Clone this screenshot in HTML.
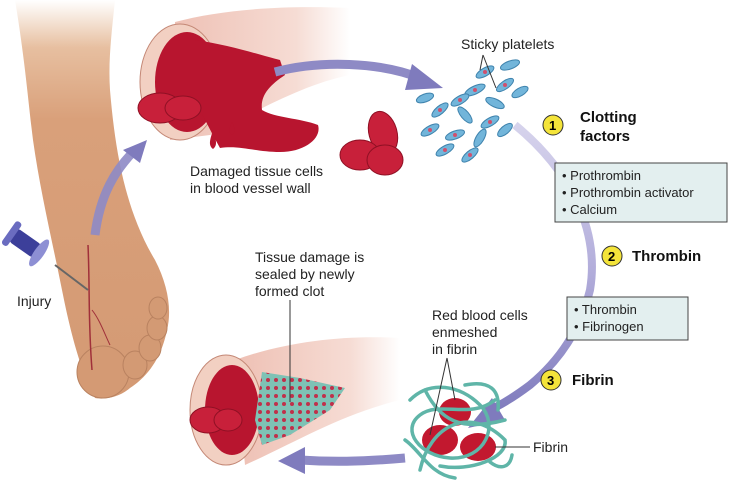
<!DOCTYPE html>
<html><head><meta charset="utf-8"><style>
body{margin:0;background:#fff;}
svg{display:block;font-family:"Liberation Sans",Arial,sans-serif;}
</style></head><body>
<svg width="731" height="487" viewBox="0 0 731 487" xmlns="http://www.w3.org/2000/svg">
<defs>
<linearGradient id="leg" x1="0" y1="0" x2="0" y2="1">
<stop offset="0" stop-color="#fff"/><stop offset="0.12" stop-color="#e7bfa0"/><stop offset="0.3" stop-color="#d9a07a"/><stop offset="1" stop-color="#d49a74"/>
</linearGradient>
<linearGradient id="tube" x1="0" y1="0" x2="1" y2="0">
<stop offset="0" stop-color="#eec0b4"/><stop offset="0.7" stop-color="#f6dcd4"/><stop offset="1" stop-color="#fff"/>
</linearGradient>
<linearGradient id="arc" x1="0" y1="0" x2="0" y2="1">
<stop offset="0" stop-color="#d6d3ec"/><stop offset="0.5" stop-color="#b3aedb"/><stop offset="1" stop-color="#7f7bbd"/>
</linearGradient>
<pattern id="mesh" width="8" height="8" patternUnits="userSpaceOnUse">
<rect width="8" height="8" fill="#7ec2b5"/><circle cx="4" cy="4" r="2" fill="#c0304a"/>
</pattern>
</defs>
<!-- foot -->
<path d="M15,0 L115,0 C112,30 108,60 110,90 C115,150 125,210 155,260 C168,285 172,310 167,330 C162,355 150,375 130,388 C120,397 105,400 95,398 C80,370 70,330 62,290 C52,240 40,190 33,140 C28,100 25,60 15,0 z" fill="url(#leg)"/>
<ellipse cx="103" cy="372" rx="26" ry="26" fill="#d49a74" stroke="#b98260"/>
<ellipse cx="135" cy="365" rx="12" ry="14" fill="#d39a74" stroke="#b98260"/>
<ellipse cx="150" cy="348" rx="11" ry="13" fill="#d39a74" stroke="#b98260"/>
<ellipse cx="157" cy="328" rx="10" ry="12" fill="#d39a74" stroke="#b98260"/>
<ellipse cx="158" cy="308" rx="9" ry="11" fill="#d39a74" stroke="#b98260"/>
<path d="M88,245 C90,290 88,320 92,370" stroke="#a0303a" stroke-width="1.5" fill="none"/>
<path d="M92,310 C100,320 105,335 110,345" stroke="#a0303a" stroke-width="1" fill="none"/>
<!-- pin -->
<line x1="55" y1="265" x2="88" y2="290" stroke="#666" stroke-width="2"/>
<g transform="rotate(35 35 250)">
<rect x="8" y="242" width="30" height="16" rx="4" fill="#3c3f9a"/>
<rect x="3" y="236" width="7" height="28" rx="3" fill="#6a6cc0"/>
<ellipse cx="40" cy="250" rx="5" ry="16" fill="#8d8fd4"/>
</g>
<text x="17" y="306" font-size="14" fill="#222">Injury</text>
<!-- arrow foot to vessel -->
<path d="M95,235 C100,195 115,170 135,150" stroke="#8e8ac5" stroke-width="9" fill="none" opacity="0.9"/>
<path d="M123,150 L147,140 L140,163 z" fill="#7f7bbd"/>
<!-- top vessel -->
<path d="M175,22 C220,10 280,5 350,8 L350,75 C300,85 250,115 210,135 L170,140 z" fill="url(#tube)"/>
<ellipse cx="180" cy="82" rx="40" ry="58" fill="#f2d0c2" stroke="#c48876"/>
<ellipse cx="187" cy="82" rx="32" ry="50" fill="#b8152f"/>
<path d="M195,40 C230,45 260,55 280,60 L285,75 C270,85 260,95 262,110 C275,118 300,118 318,125 C322,138 305,152 280,152 C255,152 240,145 220,148 C210,130 200,110 195,100 z" fill="#b8152f"/>
<ellipse cx="160" cy="108" rx="22" ry="15" fill="#c8203a" stroke="#8f1024"/>
<ellipse cx="183" cy="108" rx="18" ry="12" fill="#c8203a" stroke="#8f1024"/>
<path d="M213,130 C216,140 218,145 213,149 C208,145 210,140 213,130z" fill="#b8152f"/>
<path d="M232,122 C235,128 236,132 232,135 C228,132 229,128 232,122z" fill="#b8152f"/>
<text x="190" y="176" font-size="14" fill="#222">Damaged tissue cells</text>
<text x="190" y="193" font-size="14" fill="#222">in blood vessel wall</text>
<!-- arrow to platelets -->
<path d="M275,72 C320,60 380,62 420,78" stroke="#8e8ac5" stroke-width="9" fill="none"/>
<path d="M412,64 L443,88 L405,90 z" fill="#7f7bbd"/>
<!-- RBCs -->
<ellipse cx="383" cy="133" rx="14" ry="22" fill="#c8203a" stroke="#8f1024" transform="rotate(-15 383 133)"/>
<ellipse cx="360" cy="155" rx="20" ry="15" fill="#c8203a" stroke="#8f1024"/>
<ellipse cx="385" cy="160" rx="18" ry="15" fill="#c8203a" stroke="#8f1024"/>
<!-- platelets -->
<g fill="#72b5da" stroke="#3f83ad">
<ellipse cx="485" cy="72" rx="10" ry="4" transform="rotate(-30 485 72)"/>
<ellipse cx="510" cy="65" rx="10" ry="4" transform="rotate(-20 510 65)"/>
<ellipse cx="475" cy="90" rx="11" ry="4" transform="rotate(-25 475 90)"/>
<ellipse cx="505" cy="85" rx="10" ry="4" transform="rotate(-35 505 85)"/>
<ellipse cx="520" cy="92" rx="9" ry="4" transform="rotate(-30 520 92)"/>
<ellipse cx="460" cy="100" rx="10" ry="4" transform="rotate(-30 460 100)"/>
<ellipse cx="495" cy="103" rx="10" ry="4" transform="rotate(25 495 103)"/>
<ellipse cx="440" cy="110" rx="10" ry="4" transform="rotate(-40 440 110)"/>
<ellipse cx="465" cy="115" rx="10" ry="4" transform="rotate(50 465 115)"/>
<ellipse cx="490" cy="122" rx="10" ry="4" transform="rotate(-30 490 122)"/>
<ellipse cx="430" cy="130" rx="10" ry="4" transform="rotate(-30 430 130)"/>
<ellipse cx="455" cy="135" rx="10" ry="4" transform="rotate(-20 455 135)"/>
<ellipse cx="480" cy="138" rx="10" ry="4" transform="rotate(-60 480 138)"/>
<ellipse cx="505" cy="130" rx="9" ry="4" transform="rotate(-40 505 130)"/>
<ellipse cx="445" cy="150" rx="10" ry="4" transform="rotate(-30 445 150)"/>
<ellipse cx="470" cy="155" rx="10" ry="4" transform="rotate(-40 470 155)"/>
<ellipse cx="425" cy="98" rx="9" ry="4" transform="rotate(-20 425 98)"/>
</g>
<g fill="#d0506e"><circle cx="485" cy="72" r="2"/><circle cx="475" cy="90" r="2"/><circle cx="460" cy="100" r="2"/><circle cx="440" cy="110" r="2"/><circle cx="490" cy="122" r="2"/><circle cx="455" cy="135" r="2"/><circle cx="430" cy="130" r="2"/><circle cx="445" cy="150" r="2"/><circle cx="505" cy="85" r="2"/><circle cx="470" cy="155" r="2"/></g>
<line x1="483" y1="55" x2="496" y2="88" stroke="#333"/>
<line x1="483" y1="55" x2="480" y2="70" stroke="#333"/>
<text x="461" y="49" font-size="14" fill="#222">Sticky platelets</text>
<!-- circular arrow right -->
<path d="M515,125 C570,170 600,230 590,290 C580,330 560,360 530,385 C510,400 495,408 485,412" stroke="url(#arc)" stroke-width="8" fill="none"/>
<path d="M492,398 L468,428 L505,420 z" fill="#7f7bbd"/>
<!-- labels -->
<circle cx="553" cy="125" r="10" fill="#f4e43a" stroke="#333"/><text x="549" y="130" font-size="13" font-weight="bold">1</text>
<text x="580" y="122" font-size="15" font-weight="bold" fill="#111">Clotting</text>
<text x="580" y="141" font-size="15" font-weight="bold" fill="#111">factors</text>
<rect x="555" y="163" width="172" height="59" fill="#e3efef" stroke="#444"/>
<text x="562" y="180" font-size="13" fill="#222">• Prothrombin</text>
<text x="562" y="197" font-size="13" fill="#222">• Prothrombin activator</text>
<text x="562" y="214" font-size="13" fill="#222">• Calcium</text>
<circle cx="612" cy="256" r="10" fill="#f4e43a" stroke="#333"/><text x="608" y="261" font-size="13" font-weight="bold">2</text>
<text x="632" y="261" font-size="15" font-weight="bold" fill="#111">Thrombin</text>
<rect x="567" y="297" width="121" height="43" fill="#e3efef" stroke="#444"/>
<text x="574" y="314" font-size="13" fill="#222">• Thrombin</text>
<text x="574" y="331" font-size="13" fill="#222">• Fibrinogen</text>
<circle cx="551" cy="380" r="10" fill="#f4e43a" stroke="#333"/><text x="547" y="385" font-size="13" font-weight="bold">3</text>
<text x="572" y="385" font-size="15" font-weight="bold" fill="#111">Fibrin</text>
<!-- fibrin clot -->
<g fill="#c2182f"><ellipse cx="455" cy="412" rx="16" ry="14"/><ellipse cx="440" cy="440" rx="18" ry="15"/><ellipse cx="478" cy="447" rx="18" ry="14"/></g>
<g fill="none" stroke="#5fb5a8" stroke-width="3.5" stroke-linecap="round">
<path d="M410,400 C430,380 460,385 480,405 C500,425 485,460 450,458 C420,456 400,430 420,415 C440,400 470,420 495,400"/>
<path d="M420,470 C430,425 470,405 505,440 C508,458 470,472 440,466"/>
<path d="M425,390 C440,420 460,432 505,420"/>
<path d="M465,385 C490,380 500,390 498,410"/>
<path d="M405,440 C420,450 430,475 455,478"/>
<path d="M490,462 C500,470 510,468 512,455"/>
</g>
<text x="432" y="320" font-size="14" fill="#222">Red blood cells</text>
<text x="432" y="337" font-size="14" fill="#222">enmeshed</text>
<text x="432" y="354" font-size="14" fill="#222">in fibrin</text>
<line x1="447" y1="358" x2="430" y2="435" stroke="#333"/>
<line x1="447" y1="358" x2="455" y2="400" stroke="#333"/>
<line x1="495" y1="447" x2="530" y2="447" stroke="#333"/>
<text x="533" y="452" font-size="14" fill="#222">Fibrin</text>
<!-- bottom arrow -->
<path d="M405,458 C360,462 330,462 300,460" stroke="#8e8ac5" stroke-width="9" fill="none"/>
<path d="M305,447 L278,461 L305,474 z" fill="#7f7bbd"/>
<!-- bottom vessel -->
<path d="M235,360 C290,340 350,335 400,338 L400,400 C340,415 300,440 245,465 z" fill="url(#tube)"/>
<ellipse cx="226" cy="410" rx="36" ry="55" fill="#f2d0c2" stroke="#c48876"/>
<ellipse cx="232" cy="410" rx="27" ry="45" fill="#b8152f"/>
<ellipse cx="208" cy="420" rx="18" ry="13" fill="#c8203a" stroke="#8f1024"/>
<ellipse cx="228" cy="420" rx="14" ry="11" fill="#c8203a" stroke="#8f1024"/>
<path d="M262,372 L300,378 L345,388 L330,410 L290,435 L262,445 L255,420 z" fill="url(#mesh)"/>
<text x="255" y="262" font-size="14" fill="#222">Tissue damage is</text>
<text x="255" y="279" font-size="14" fill="#222">sealed by newly</text>
<text x="255" y="296" font-size="14" fill="#222">formed clot</text>
<line x1="290" y1="300" x2="290" y2="402" stroke="#333"/>
</svg>
</body></html>
